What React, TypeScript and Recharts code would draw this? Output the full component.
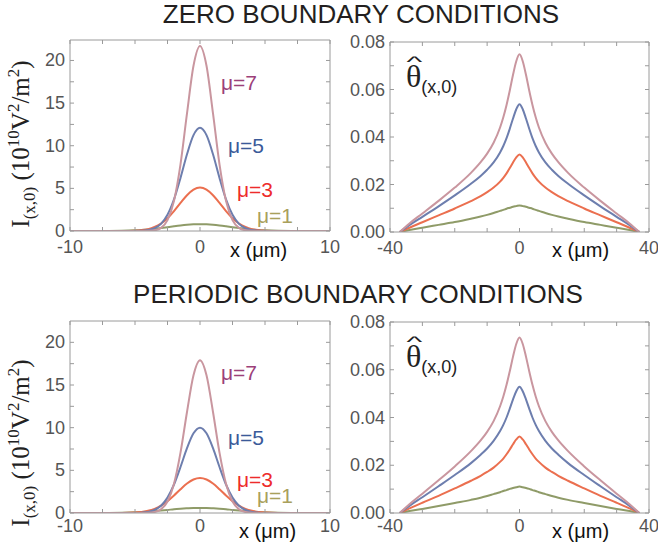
import { Line, LineChart, XAxis, YAxis } from 'recharts';

// intensity panels (left), x in µm
const xI = [-10, -8, -6, -5, -4.5, -4, -3.5, -3, -2.5, -2, -1.5, -1, -0.5, 0, 0.5, 1, 1.5, 2, 2.5, 3, 3.5, 4, 4.5, 5, 6, 8, 10];

const zeroI7 = [0, 0, 0, 0, 0, 0.02, 0.08, 0.37, 1.28, 3.54, 7.82, 13.79, 19.38, 21.7, 19.38, 13.79, 7.82, 3.54, 1.28, 0.37, 0.08, 0.02, 0, 0, 0, 0, 0];
const zeroI5 = [0, 0, 0, 0.01, 0.03, 0.11, 0.32, 0.84, 1.9, 3.71, 6.22, 9.0, 11.24, 12.1, 11.24, 9.0, 6.22, 3.71, 1.9, 0.84, 0.32, 0.11, 0.03, 0.01, 0, 0, 0];
const zeroI3 = [0, 0, 0.01, 0.04, 0.1, 0.22, 0.47, 0.88, 1.5, 2.33, 3.29, 4.2, 4.86, 5.1, 4.86, 4.2, 3.29, 2.33, 1.5, 0.88, 0.47, 0.22, 0.1, 0.04, 0.01, 0, 0];
const zeroI1 = [0, 0, 0.03, 0.08, 0.12, 0.18, 0.25, 0.34, 0.44, 0.55, 0.65, 0.73, 0.78, 0.8, 0.78, 0.73, 0.65, 0.55, 0.44, 0.34, 0.25, 0.18, 0.12, 0.08, 0.03, 0, 0];

const perI7 = [0, 0, 0, 0, 0, 0.02, 0.11, 0.43, 1.35, 3.43, 7.07, 11.84, 16.14, 17.9, 16.14, 11.84, 7.07, 3.43, 1.35, 0.43, 0.11, 0.02, 0, 0, 0, 0, 0];
const perI5 = [0, 0, 0, 0.01, 0.04, 0.12, 0.35, 0.85, 1.8, 3.34, 5.39, 7.6, 9.34, 10.0, 9.34, 7.6, 5.39, 3.34, 1.8, 0.85, 0.35, 0.12, 0.04, 0.01, 0, 0, 0];
const perI3 = [0, 0, 0.01, 0.05, 0.12, 0.26, 0.49, 0.86, 1.39, 2.05, 2.78, 3.45, 3.93, 4.1, 3.93, 3.45, 2.78, 2.05, 1.39, 0.86, 0.49, 0.26, 0.12, 0.05, 0.01, 0, 0];
const perI1 = [0, 0, 0.03, 0.08, 0.12, 0.17, 0.23, 0.29, 0.36, 0.44, 0.5, 0.55, 0.59, 0.6, 0.59, 0.55, 0.5, 0.44, 0.36, 0.29, 0.23, 0.17, 0.12, 0.08, 0.03, 0, 0];

// theta panels (right)
const xT = [-37, -34, -30, -25, -20, -15, -12, -10, -8, -6, -5, -4, -3, -2, -1, 0, 1, 2, 3, 4, 5, 6, 8, 10, 12, 15, 20, 25, 30, 34, 37];

const zeroT7 = [0, 0.0036, 0.0078, 0.0131, 0.0187, 0.0249, 0.0294, 0.033, 0.0376, 0.044, 0.0483, 0.0535, 0.0596, 0.0662, 0.0719, 0.0748, 0.0719, 0.0662, 0.0596, 0.0535, 0.0483, 0.044, 0.0376, 0.033, 0.0294, 0.0249, 0.0187, 0.0131, 0.0078, 0.0036, 0];
const zeroT5 = [0, 0.0029, 0.0064, 0.0108, 0.0154, 0.0203, 0.0236, 0.0262, 0.0293, 0.0335, 0.0362, 0.0395, 0.0435, 0.0478, 0.0517, 0.0538, 0.0517, 0.0478, 0.0435, 0.0395, 0.0362, 0.0335, 0.0293, 0.0262, 0.0236, 0.0203, 0.0154, 0.0108, 0.0064, 0.0029, 0];
const zeroT3 = [0, 0.0018, 0.0041, 0.007, 0.0099, 0.013, 0.0151, 0.0168, 0.0187, 0.0212, 0.0228, 0.0247, 0.0269, 0.0293, 0.0314, 0.0326, 0.0314, 0.0293, 0.0269, 0.0247, 0.0228, 0.0212, 0.0187, 0.0168, 0.0151, 0.013, 0.0099, 0.007, 0.0041, 0.0018, 0];
const zeroT1 = [0, 0.0008, 0.0018, 0.003, 0.0042, 0.0056, 0.0065, 0.0072, 0.008, 0.0089, 0.0093, 0.0098, 0.0102, 0.0106, 0.0109, 0.0112, 0.0109, 0.0106, 0.0102, 0.0098, 0.0093, 0.0089, 0.008, 0.0072, 0.0065, 0.0056, 0.0042, 0.003, 0.0018, 0.0008, 0];

const perT7 = [0, 0.0037, 0.0081, 0.0137, 0.0195, 0.0259, 0.0304, 0.034, 0.0385, 0.0447, 0.0488, 0.0537, 0.0594, 0.0655, 0.0708, 0.0735, 0.0708, 0.0655, 0.0594, 0.0537, 0.0488, 0.0447, 0.0385, 0.034, 0.0304, 0.0259, 0.0195, 0.0137, 0.0081, 0.0037, 0];
const perT5 = [0, 0.003, 0.0066, 0.0112, 0.0159, 0.0209, 0.0244, 0.027, 0.0302, 0.0343, 0.0369, 0.04, 0.0437, 0.0476, 0.051, 0.0529, 0.051, 0.0476, 0.0437, 0.04, 0.0369, 0.0343, 0.0302, 0.027, 0.0244, 0.0209, 0.0159, 0.0112, 0.0066, 0.003, 0];
const perT3 = [0, 0.0019, 0.0043, 0.0072, 0.0103, 0.0135, 0.0156, 0.0172, 0.019, 0.0214, 0.0228, 0.0246, 0.0266, 0.0288, 0.0308, 0.032, 0.0308, 0.0288, 0.0266, 0.0246, 0.0228, 0.0214, 0.019, 0.0172, 0.0156, 0.0135, 0.0103, 0.0072, 0.0043, 0.0019, 0];
const perT1 = [0, 0.0008, 0.0017, 0.0029, 0.0042, 0.0055, 0.0064, 0.0071, 0.0079, 0.0087, 0.0092, 0.0096, 0.0101, 0.0105, 0.0108, 0.0111, 0.0108, 0.0105, 0.0101, 0.0096, 0.0092, 0.0087, 0.0079, 0.0071, 0.0064, 0.0055, 0.0042, 0.0029, 0.0017, 0.0008, 0];

// axis ticks
const iXTicks = [-10, -7.5, -5, -2.5, 0, 2.5, 5, 7.5, 10];
const iXLabels = [-10, 0, 10];
const iYTicks = [0, 2.5, 5, 7.5, 10, 12.5, 15, 17.5, 20];
const iYLabels = [0, 5, 10, 15, 20];
const tXTicks = [-40, -30, -20, -10, 0, 10, 20, 30, 40];
const tXLabels = [-40, 0, 40];
const tYTicks = [0, 0.01, 0.02, 0.03, 0.04, 0.05, 0.06, 0.07, 0.08];
const tYLabels = [0, 0.02, 0.04, 0.06, 0.08];

const LINE = { m7: '#c9969f', m5: '#6d7eae', m3: '#eb6f4f', m1: '#8f9b68' };
const FRAME = '#9a9a9a';
const SANS = '"Liberation Sans", Arial, Helvetica, sans-serif';
const SERIF = '"Liberation Serif", "Times New Roman", serif';

function rows(xs: number[], a: number[], b: number[], c: number[], d: number[]) {
  return xs.map((x, i) => ({ x, m7: a[i], m5: b[i], m3: c[i], m1: d[i] }));
}

interface PanelProps {
  data: { x: number; m7: number; m5: number; m3: number; m1: number }[];
  left: number;
  top: number;
  plotW: number;
  plotH: number;
  extraRight: number;
  xDomain: [number, number];
  yDomain: [number, number];
  xTicks: number[];
  xLabels: number[];
  yTicks: number[];
  yLabels: number[];
  yFmt: (v: number) => string;
  labelDy: number;
}

function Panel(p: PanelProps) {
  const W = p.plotW + 56 + p.extraRight;
  const H = p.plotH + 40;
  const tickText = { fontFamily: SANS, fontSize: 18, fill: '#555' };

  const bottomTick = (t: any) => (
    <g>
      <line x1={t.x} x2={t.x} y1={t.y} y2={t.y - 4} stroke={FRAME} />
      {p.xLabels.includes(t.payload.value) && (
        <text x={t.x} y={t.y + p.labelDy} textAnchor="middle" {...tickText}>
          {t.payload.value}
        </text>
      )}
    </g>
  );
  const topTick = (t: any) => <line x1={t.x} x2={t.x} y1={t.y} y2={t.y + 4} stroke={FRAME} />;
  const leftTick = (t: any) => (
    <g>
      <line x1={t.x} x2={t.x + 4} y1={t.y} y2={t.y} stroke={FRAME} />
      {p.yLabels.some((v) => Math.abs(v - t.payload.value) < 1e-9) && (
        <text x={t.x - 5} y={t.y + 6} textAnchor="end" {...tickText}>
          {p.yFmt(t.payload.value)}
        </text>
      )}
    </g>
  );
  const rightTick = (t: any) => <line x1={t.x} x2={t.x - 4} y1={t.y} y2={t.y} stroke={FRAME} />;

  return (
    <div style={{ position: 'absolute', left: p.left - 50, top: p.top - 10 }}>
      <LineChart width={W} height={H} data={p.data} margin={{ top: 0, right: p.extraRight, bottom: 0, left: 0 }}>
        <XAxis
          dataKey="x"
          type="number"
          domain={p.xDomain}
          ticks={p.xTicks}
          interval={0}
          allowDataOverflow
          height={30}
          tickSize={0}
          tickMargin={0}
          tickLine={false}
          axisLine={{ stroke: FRAME }}
          tick={bottomTick}
        />
        <XAxis
          xAxisId="top"
          orientation="top"
          dataKey="x"
          type="number"
          domain={p.xDomain}
          ticks={p.xTicks}
          interval={0}
          allowDataOverflow
          height={10}
          tickSize={0}
          tickMargin={0}
          tickLine={false}
          axisLine={{ stroke: FRAME }}
          tick={topTick}
        />
        <YAxis
          type="number"
          domain={p.yDomain}
          ticks={p.yTicks}
          interval={0}
          allowDataOverflow
          width={50}
          tickSize={0}
          tickMargin={0}
          tickLine={false}
          axisLine={{ stroke: FRAME }}
          tick={leftTick}
        />
        <YAxis
          yAxisId="right"
          orientation="right"
          type="number"
          domain={p.yDomain}
          ticks={p.yTicks}
          interval={0}
          allowDataOverflow
          width={6}
          tickSize={0}
          tickMargin={0}
          tickLine={false}
          axisLine={{ stroke: FRAME }}
          tick={rightTick}
        />
        <Line type="monotone" dataKey="m1" stroke={LINE.m1} strokeWidth={2} dot={false} isAnimationActive={false} />
        <Line type="monotone" dataKey="m3" stroke={LINE.m3} strokeWidth={2} dot={false} isAnimationActive={false} />
        <Line type="monotone" dataKey="m5" stroke={LINE.m5} strokeWidth={2} dot={false} isAnimationActive={false} />
        <Line type="monotone" dataKey="m7" stroke={LINE.m7} strokeWidth={2} dot={false} isAnimationActive={false} />
      </LineChart>
    </div>
  );
}

function IntensityLabel({ cx, cy }: { cx: number; cy: number }) {
  return (
    <text
      x={cx}
      y={cy}
      transform={`rotate(-90, ${cx}, ${cy})`}
      textAnchor="middle"
      fontFamily={SERIF}
      fontSize={25}
      fill="#222"
    >
      I
      <tspan dy={6} fontSize={17}>(x,0)</tspan>
      <tspan dy={-6}> (10</tspan>
      <tspan dy={-10} fontSize={17}>10</tspan>
      <tspan dy={10}>V</tspan>
      <tspan dy={-10} fontSize={17}>2</tspan>
      <tspan dy={10}>/m</tspan>
      <tspan dy={-10} fontSize={17}>2</tspan>
      <tspan dy={10}>)</tspan>
    </text>
  );
}

function ThetaLabel({ x, y }: { x: number; y: number }) {
  return (
    <g fill="#222">
      <text x={x} y={y} fontFamily={SERIF} fontSize={32}>
        θ
        <tspan dy={6} fontFamily={SANS} fontSize={18}>(x,0)</tspan>
      </text>
      <text
        transform={`translate(${x + 8.5}, ${y - 20}) scale(1.4, 0.6)`}
        textAnchor="middle"
        fontFamily={SANS}
        fontSize={24}
      >
        ^
      </text>
    </g>
  );
}

function MuLabels({ ys }: { ys: number[] }) {
  const items = [
    { t: 'μ=7', x: 221, c: '#9c4079' },
    { t: 'μ=5', x: 228, c: '#3b5a99' },
    { t: 'μ=3', x: 237, c: '#ee2b2b' },
    { t: 'μ=1', x: 257, c: '#a9a05c' },
  ];
  return (
    <>
      {items.map((it, i) => (
        <text key={it.t} x={it.x} y={ys[i]} fontFamily={SANS} fontSize={21} fill={it.c}>
          {it.t}
        </text>
      ))}
    </>
  );
}

export default function App() {
  const fmtI = (v: number) => String(v);
  const fmtT = (v: number) => v.toFixed(2);
  return (
    <div style={{ position: 'absolute', left: 0, top: 0, width: 658, height: 546, background: '#fff', overflow: 'hidden' }}>
      <Panel data={rows(xI, zeroI7, zeroI5, zeroI3, zeroI1)} left={70} top={40} plotW={260} plotH={191} extraRight={20}
        xDomain={[-10, 10]} yDomain={[0, 22.4]} xTicks={iXTicks} xLabels={iXLabels} yTicks={iYTicks} yLabels={iYLabels} yFmt={fmtI} labelDy={22} />
      <Panel data={rows(xT, zeroT7, zeroT5, zeroT3, zeroT1)} left={390} top={42} plotW={259} plotH={190} extraRight={3}
        xDomain={[-40, 40]} yDomain={[0, 0.08]} xTicks={tXTicks} xLabels={tXLabels} yTicks={tYTicks} yLabels={tYLabels} yFmt={fmtT} labelDy={22} />
      <Panel data={rows(xI, perI7, perI5, perI3, perI1)} left={70} top={321} plotW={260} plotH={192} extraRight={20}
        xDomain={[-10, 10]} yDomain={[0, 22.5]} xTicks={iXTicks} xLabels={iXLabels} yTicks={iYTicks} yLabels={iYLabels} yFmt={fmtI} labelDy={19} />
      <Panel data={rows(xT, perT7, perT5, perT3, perT1)} left={390} top={322} plotW={259} plotH={191} extraRight={3}
        xDomain={[-40, 40]} yDomain={[0, 0.08]} xTicks={tXTicks} xLabels={tXLabels} yTicks={tYTicks} yLabels={tYLabels} yFmt={fmtT} labelDy={19} />

      <svg width={658} height={546} style={{ position: 'absolute', left: 0, top: 0, pointerEvents: 'none' }}>
        <text x={361} y={23} textAnchor="middle" fontFamily={SANS} fontSize={26} fill="#231f20">
          ZERO BOUNDARY CONDITIONS
        </text>
        <text x={358} y={303} textAnchor="middle" fontFamily={SANS} fontSize={26} fill="#231f20">
          PERIODIC BOUNDARY CONDITIONS
        </text>

        <IntensityLabel cx={28.5} cy={144} />
        <IntensityLabel cx={28.5} cy={443} />
        <ThetaLabel x={406} y={87} />
        <ThetaLabel x={406} y={367} />

        <g fontFamily={SANS} fontSize={20} fill="#111">
          <text x={230} y={257}>x (μm)</text>
          <text x={552} y={257}>x (μm)</text>
          <text x={239} y={538}>x (μm)</text>
          <text x={552} y={538}>x (μm)</text>
        </g>

        <MuLabels ys={[90, 153, 197, 223]} />
        <g transform="translate(0, 290)">
          <MuLabels ys={[90, 155, 197, 213]} />
        </g>
      </svg>
    </div>
  );
}
